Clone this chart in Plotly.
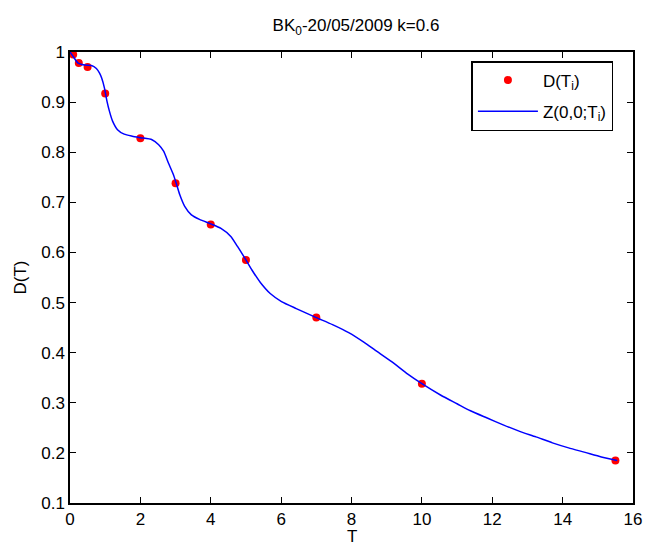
import plotly.graph_objects as go

# Market discount factors D(T_i)
market_T = [0.09, 0.25, 0.5, 1.0, 2.0, 3.0, 4.0, 5.0, 7.0, 10.0, 15.5]
market_D = [0.995, 0.978, 0.970, 0.917, 0.828, 0.738, 0.656, 0.585, 0.470, 0.338, 0.185]

# Fitted curve Z(0,0;T)
curve_T = [0, 0.1, 0.23, 0.42, 0.61, 0.75, 0.84, 0.90, 0.98, 1.05, 1.12, 1.21, 1.35, 1.54,
           1.77, 2.0, 2.33, 2.52, 2.66, 2.80, 2.94, 3.01, 3.12, 3.26, 3.45, 3.68, 4.0, 4.29,
           4.57, 4.76, 5.0, 5.17, 5.41, 5.69, 6.01, 6.43, 7.0, 7.46, 7.92, 8.37, 8.67, 9.14,
           9.60, 10.0, 10.54, 11.0, 11.38, 11.84, 12.31, 12.78, 13.24, 13.71, 14.17, 14.64,
           15.10, 15.55]
curve_D = [1.0, 0.99, 0.978, 0.974, 0.973, 0.967, 0.958, 0.948, 0.928, 0.902, 0.882, 0.862,
           0.845, 0.836, 0.832, 0.829, 0.825, 0.815, 0.802, 0.778, 0.755, 0.740, 0.715, 0.692,
           0.675, 0.666, 0.657, 0.648, 0.632, 0.612, 0.585, 0.565, 0.540, 0.518, 0.502, 0.488,
           0.470, 0.456, 0.440, 0.420, 0.405, 0.382, 0.357, 0.338, 0.315, 0.298, 0.284, 0.270,
           0.256, 0.243, 0.232, 0.220, 0.210, 0.201, 0.192, 0.185]

x_ticks = [0, 2, 4, 6, 8, 10, 12, 14, 16]
y_ticks = [0.1, 0.2, 0.3, 0.4, 0.5, 0.6, 0.7, 0.8, 0.9, 1.0]
y_tick_labels = ["0.1", "0.2", "0.3", "0.4", "0.5", "0.6", "0.7", "0.8", "0.9", "1"]

FONT = "Liberation Sans, Arial, sans-serif"
FS = 17

fig = go.Figure()
fig.add_trace(go.Scatter(
    x=market_T, y=market_D, mode="markers", name="D(T<sub>i</sub>)", legendgroup="a",
    marker=dict(color="rgb(255,0,0)", size=8, line=dict(width=0)),
))
fig.add_trace(go.Scatter(
    x=curve_T, y=curve_D, mode="lines", name="Z(0,0;T<sub>i</sub>)", legendgroup="b",
    line=dict(color="rgb(0,0,255)", width=1.5, shape="spline", smoothing=0.6),
))

axis_common = dict(
    showline=True, linecolor="black", linewidth=1.5, mirror="ticks",
    ticks="inside", ticklen=6, tickwidth=1, tickcolor="black",
    showgrid=False, zeroline=False,
    tickfont=dict(family=FONT, size=FS, color="black"),
)

fig.update_xaxes(range=[0, 16], tickvals=x_ticks, ticktext=[str(v) for v in x_ticks],
                 **axis_common)
fig.update_yaxes(range=[0.1, 1.0], tickvals=y_ticks, ticktext=y_tick_labels,
                 title=dict(text="D(T)", font=dict(family=FONT, size=FS, color="black"), standoff=10),
                 **axis_common)

H = 546
PLOT_BOTTOM = 503
PLOT_H = 451
fig.add_annotation(text="T", xref="paper", yref="paper", x=0.5, xanchor="center",
                   y=-(536 - PLOT_BOTTOM) / PLOT_H, yanchor="middle", showarrow=False,
                   font=dict(family=FONT, size=FS, color="black"))

fig.update_layout(
    width=652, height=H,
    margin=dict(l=70, r=10, t=52, b=43),
    paper_bgcolor="white", plot_bgcolor="white",
    font=dict(family=FONT, size=FS, color="black"),
    title=dict(text="BK<sub>0</sub>-20/05/2009 k=0.6", x=0.546, xanchor="center",
               y=1 - 25 / H, yanchor="middle",
               font=dict(family=FONT, size=FS, color="black")),
    legend=dict(x=0.713, y=0.98, xanchor="left", yanchor="top",
                bgcolor="white", bordercolor="black", borderwidth=1.5,
                font=dict(family=FONT, size=FS, color="black"),
                itemwidth=60, tracegroupgap=6),
    showlegend=True,
)

# remove the browser's default 8px body margin so the figure sits at the page origin
fig.write_html("out.html", config={"displayModeBar": False},
               post_script="document.body.style.margin='0';")
